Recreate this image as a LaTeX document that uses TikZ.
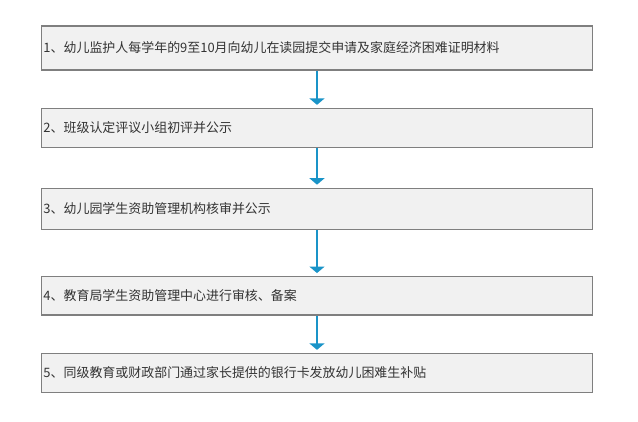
\documentclass[tikz,border=0pt]{standalone}
\usepackage{fontspec}
\setmainfont{Noto Sans CJK SC}
\usepackage{tikz}
\usetikzlibrary{arrows.meta,positioning}
\definecolor{boxfill}{HTML}{F1F1F1}
\definecolor{boxline}{HTML}{7F7F7F}
\definecolor{arrblue}{HTML}{1A94C8}
\definecolor{txtgray}{HTML}{333333}

\begin{document}
\begin{tikzpicture}[x=1bp, y=-1bp, every node/.style={font=\fontsize{13}{15}\selectfont, text=txtgray}]
  \tikzset{stepbox/.style={rectangle, draw=boxline, line width=1.1bp, fill=boxfill, minimum width=550.6bp, text width=547bp, inner xsep=1.8bp, inner ysep=0pt, align=left}, arr/.style={-{Triangle[width=15bp, length=6.5bp]}, draw=arrblue, line width=1.8bp, shorten >=3bp}}
  \useasboundingbox (0,0) rectangle (638,421);
  \node[stepbox, minimum height=44bp] (apply) at (317,48) {1、幼儿监护人每学年的9至10月向幼儿在读园提交申请及家庭经济困难证明材料};
  \node[stepbox, minimum height=38.7bp, below=37.3bp of apply] (classrev) {2、班级认定评议小组初评并公示};
  \node[stepbox, minimum height=41.7bp, below=40bp of classrev] (kinderrev) {3、幼儿园学生资助管理机构核审并公示};
  \node[stepbox, minimum height=38.4bp, below=45.6bp of kinderrev] (bureau) {4、教育局学生资助管理中心进行审核、备案};
  \node[stepbox, minimum height=38.7bp, below=37.3bp of bureau] (payout) {5、同级教育或财政部门通过家长提供的银行卡发放幼儿困难生补贴};
  \draw[arr] (apply) -- (classrev);
  \draw[arr] (classrev) -- (kinderrev);
  \draw[arr] (kinderrev) -- (bureau);
  \draw[arr] (bureau) -- (payout);
\end{tikzpicture}
\end{document}
